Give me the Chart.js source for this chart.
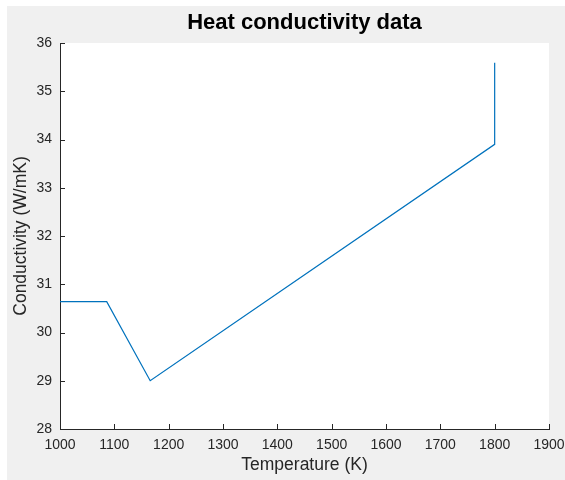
<!DOCTYPE html>
<html>
<head>
<meta charset="utf-8">
<script src="https://cdn.jsdelivr.net/npm/chart.js@4/dist/chart.umd.min.js"></script>
<style>
  html, body { margin: 0; padding: 0; background: #fff; }
  #frame { position: absolute; left: 7px; top: 6px; width: 558px; height: 474px; background: #f0f0f0; }
  #wrap { position: absolute; left: 0; top: 0; width: 565px; height: 480px; }
</style>
</head>
<body>
<div id="frame"></div>
<div id="wrap"><canvas id="heatChart"></canvas></div>
<script>
// values
const temperatures = [1000, 1086, 1166, 1800, 1800];
const conductivity = [30.64, 30.64, 29.0, 33.9, 35.59];
const xTicks = [1000, 1100, 1200, 1300, 1400, 1500, 1600, 1700, 1800, 1900];
const yTicks = [28, 29, 30, 31, 32, 33, 34, 35, 36];

const fontFamily = '"Liberation Sans", Arial, Helvetica, sans-serif';
const axisColor = '#262626';

// white plot box
const plotBackground = {
  id: 'plotBackground',
  beforeDraw(chart) {
    const { ctx, chartArea: a } = chart;
    ctx.save();
    ctx.fillStyle = '#ffffff';
    ctx.fillRect(a.left, a.top, a.right - a.left, a.bottom - a.top);
    ctx.restore();
  }
};

// MATLAB style ticks pointing inward
const innerTicks = {
  id: 'innerTicks',
  afterDraw(chart) {
    const { ctx, chartArea: a, scales } = chart;
    const len = 5;
    ctx.save();
    ctx.strokeStyle = axisColor;
    ctx.lineWidth = 1;
    ctx.beginPath();
    xTicks.forEach(v => {
      const px = Math.round(scales.x.getPixelForValue(v)) + 0.5;
      ctx.moveTo(px, a.bottom);
      ctx.lineTo(px, a.bottom - len);
    });
    yTicks.forEach(v => {
      const py = Math.round(scales.y.getPixelForValue(v)) + 0.5;
      ctx.moveTo(a.left, py);
      ctx.lineTo(a.left + len, py);
    });
    ctx.stroke();
    ctx.restore();
  }
};

const ctx = document.getElementById('heatChart').getContext('2d');
const heatChart = new Chart(ctx, {
  type: 'line',
  data: {
    datasets: [{
      label: 'Conductivity',
      data: temperatures.map((t, i) => ({ x: t, y: conductivity[i] })),
      borderColor: '#0072BD',
      borderWidth: 1.2,
      pointRadius: 0,
      tension: 0,
      fill: false
    }]
  },
  options: {
    responsive: true,
    maintainAspectRatio: false,
    animation: false,
    layout: { padding: 0 },
    plugins: {
      legend: { display: false },
      tooltip: { enabled: false },
      title: {
        display: true,
        text: 'Heat conductivity data',
        fullSize: false,
        color: '#000',
        font: { family: fontFamily, size: 22, weight: 'bold' },
        padding: { top: 10, bottom: 6.6 }
      }
    },
    scales: {
      x: {
        type: 'linear',
        min: 1000,
        max: 1900,
        afterFit: s => { s.height = 51; s.paddingRight = 16; },
        afterBuildTicks: s => { s.ticks = xTicks.map(v => ({ value: v })); },
        grid: { display: false, drawTicks: false },
        border: { display: true, color: axisColor, width: 1 },
        ticks: {
          color: axisColor,
          padding: 8,
          maxRotation: 0,
          autoSkip: false,
          font: { family: fontFamily, size: 14 },
          callback: v => String(v)
        },
        title: {
          display: true,
          text: 'Temperature (K)',
          color: axisColor,
          font: { family: fontFamily, size: 17.5 },
          padding: { top: 0, bottom: 4 }
        }
      },
      y: {
        type: 'linear',
        min: 28,
        max: 36,
        afterFit: s => { s.width = 60; },
        afterBuildTicks: s => { s.ticks = yTicks.map(v => ({ value: v })); },
        grid: { display: false, drawTicks: false },
        border: { display: true, color: axisColor, width: 1 },
        ticks: {
          color: axisColor,
          padding: 8,
          autoSkip: false,
          font: { family: fontFamily, size: 14 },
          callback: v => String(v)
        },
        title: {
          display: true,
          text: 'Conductivity (W/mK)',
          color: axisColor,
          font: { family: fontFamily, size: 17.5 },
          padding: { top: 11, bottom: 0 }
        }
      }
    }
  },
  plugins: [plotBackground, innerTicks]
});
</script>
</body>
</html>
